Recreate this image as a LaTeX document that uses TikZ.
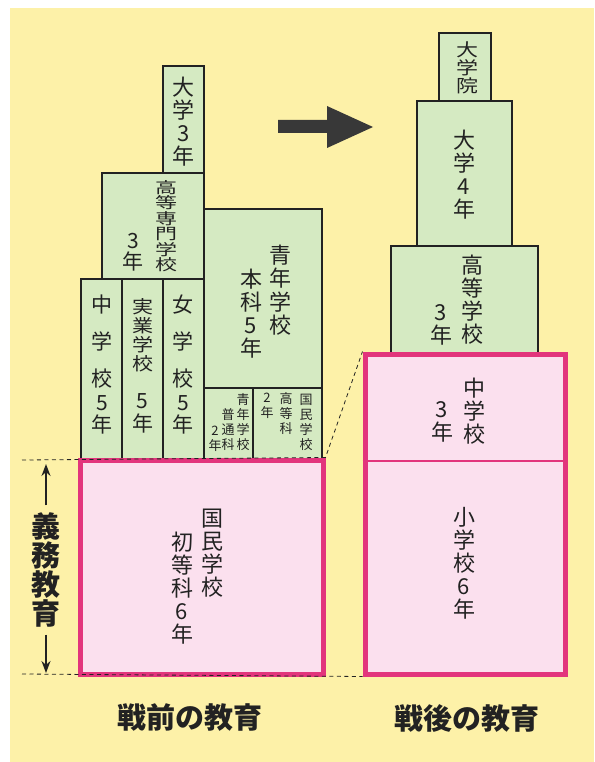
\documentclass[tikz,border=0pt]{standalone}
\usepackage{graphicx}
\usepackage{fontspec}
\newfontfamily\jp{Noto Sans CJK JP}
\usetikzlibrary{arrows.meta}
\definecolor{bgy}{HTML}{FDF1A8}
\definecolor{gr}{HTML}{D5EAC2}
\definecolor{pk}{HTML}{FBE0EE}
\definecolor{mg}{HTML}{E2357C}
\definecolor{ink}{HTML}{222222}
\newcommand\tsz[2]{\jp\fontsize{#1}{#2}\selectfont\lineskiplimit=-50pt\lineskip=0pt}
\newcommand\sq[2][0.75]{\scalebox{1}[#1]{#2}}
\begin{document}
\begin{tikzpicture}[x=1pt, y=-1pt, >={Stealth[length=12pt, width=9pt]}, font=\jp,
    g/.style={draw=ink, line width=1.3pt, fill=gr, inner sep=0pt},
    p/.style={draw=mg, line width=5pt, fill=pk, inner sep=0pt},
    t/.style={inner sep=0pt, align=center, text=ink, font=\tsz{22}{23}},
    ts/.style={t, font=\tsz{13}{15}},
    lb/.style={inner sep=0pt, align=center, text=ink, font=\tsz{29}{29}\bfseries},
    dl/.style={draw=ink, line width=0.8pt, dash pattern=on 4pt off 3.5pt}]
    \useasboundingbox (0,0) rectangle (594,762);
    \fill[bgy] (10,8) rectangle (594,762);
    \node[g, minimum width=41, minimum height=107] (dai3) at (183.5,119.5) {};
    \node[g, minimum width=102, minimum height=106] (sen) at (153,226) {};
    \node[g, minimum width=41, minimum height=180] (chu) at (101.5,369) {};
    \node[g, minimum width=41, minimum height=180] (jit) at (142.5,369) {};
    \node[g, minimum width=41, minimum height=180] (jo) at (183.5,369) {};
    \node[g, minimum width=118, minimum height=179] (sh) at (263,298.5) {};
    \node[g, minimum width=49, minimum height=71] (sf) at (228.5,423.5) {};
    \node[g, minimum width=69, minimum height=71] (kk) at (287.5,423.5) {};
    \node[p, minimum width=243, minimum height=214] (ks) at (201.5,567) {};
    \node[g, minimum width=52, minimum height=68] (in) at (465,67) {};
    \node[g, minimum width=95, minimum height=145] (dai4) at (464.5,173.5) {};
    \node[g, minimum width=147, minimum height=108] (kou) at (464.5,300) {};
    \node[p, minimum width=200, minimum height=320] (shin) at (465,514) {};
    \draw[mg, line width=2pt] (shin.west |- 0,461) -- (shin.east |- 0,461);
    \coordinate (d1) at (22,460);
    \coordinate (d2) at (22,674);
    \draw[dl] (d1) -- (ks.north east) -- (shin.north west);
    \draw[dl] (d2) -- (shin.south west);
    \fill[ink!90] (278,120) -- (327,120) -- (327,106) -- (373,127) -- (327,148)
        -- (327,133) -- (278,133) -- cycle;
    \node[t] (tdai3) at (183.5,122) {大\\学\\3\\年};
    \node[t, font=\tsz{22}{15.5}] (tsen) at (166,226)
        {\sq[0.7]{高}\\\sq[0.7]{等}\\\sq[0.7]{専}\\\sq[0.7]{門}\\\sq[0.7]{学}\\\sq[0.7]{校}};
    \node[t, font=\tsz{21}{21}] (tsen3) at (133,252) {3\\年};
    \node[t, font=\tsz{21}{22}] (tchu) at (102,365) {中\\[15pt]学\\[15pt]校\\[2pt]5\\年};
    \node[t, font=\tsz{21}{19}] (tjit) at (142.5,366)
        {\sq[0.85]{実}\\\sq[0.85]{業}\\\sq[0.85]{学}\\\sq[0.85]{校}\\[19pt]5\\[4pt]年};
    \node[t, font=\tsz{21}{22}] (tjo) at (183,365) {女\\[15pt]学\\[15pt]校\\[2pt]5\\年};
    \node[t, font=\tsz{22}{23.5}] (tsh1) at (280,290) {青\\年\\学\\校};
    \node[t] (tsh2) at (251,314) {本\\科\\5\\年};
    \node[ts] (tsf1) at (243,422) {青\\年\\学\\校};
    \node[ts] (tsf2) at (228,430) {普\\通\\科};
    \node[ts] (tsf3) at (215,439) {2\\年};
    \node[ts] (tkk1) at (306,422) {国\\民\\学\\校};
    \node[ts] (tkk2) at (286,414) {高\\等\\科};
    \node[ts] (tkk3) at (267,406) {2\\年};
    \node[t] (tks1) at (212,553) {国\\民\\学\\校};
    \node[t] (tks2) at (182,588) {初\\等\\科\\6\\年};
    \node[t, font=\tsz{22}{18}] (tin) at (467,68) {\sq[0.8]{大}\\\sq[0.8]{学}\\\sq[0.8]{院}};
    \node[t] (tdai4) at (464,175) {大\\学\\4\\年};
    \node[t] (tkou1) at (472,300) {高\\等\\学\\校};
    \node[t] (tkou2) at (441,325) {3\\年};
    \node[t] (tchu1) at (474,411) {中\\学\\校};
    \node[t] (tchu2) at (442,422) {3\\年};
    \node[t] (tsho) at (464,563) {小\\学\\校\\6\\年};
    \node[lb] (gimu) at (46,570) {義\\務\\教\\育};
    \coordinate (ga) at (46,464);
    \coordinate (gb) at (46,673);
    \draw[->, ink, line width=1.6pt, shorten <=7pt] (gimu.north) -- (ga);
    \draw[->, ink, line width=1.6pt, shorten <=7pt] (gimu.south) -- (gb);
    \node[lb] (pre) at (190,718) {戦前の教育};
    \node[lb] (post) at (467,718) {戦後の教育};
\end{tikzpicture}
\end{document}
